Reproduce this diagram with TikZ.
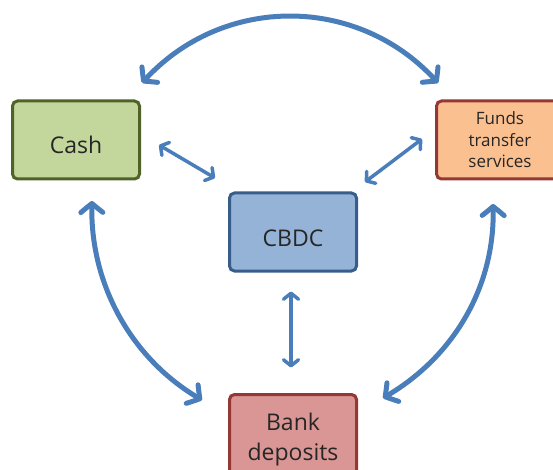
\documentclass[tikz,border=0pt]{standalone}
\usepackage{fontspec}
\setmainfont{Open Sans}
\usetikzlibrary{arrows.meta,bending}
\definecolor{flowblue}{HTML}{4A7EBB}
\definecolor{cashfill}{HTML}{C3D69B}
\definecolor{cashline}{HTML}{4F6228}
\definecolor{cbdcfill}{HTML}{95B3D7}
\definecolor{cbdcline}{HTML}{385D8A}
\definecolor{fundsfill}{HTML}{FAC090}
\definecolor{redline}{HTML}{953735}
\definecolor{bankfill}{HTML}{D99694}
\begin{document}
\begin{tikzpicture}[x=1pt,y=-1pt,
    box/.style={draw,line width=3pt,rounded corners=5pt,minimum width=127pt,
        minimum height=78pt,align=center,text=black!85,
        font=\fontsize{23}{30}\selectfont},
    bigflow/.style={draw=flowblue,line width=5pt,line cap=round,
        {Straight Barb[length=9pt,width=22pt,round,bend]}-{Straight Barb[length=9pt,width=22pt,round,bend]}},
    flow/.style={draw=flowblue,line width=3.5pt,line cap=round,
        {Straight Barb[length=6pt,width=15pt,round]}-{Straight Barb[length=6pt,width=15pt,round]}}]
    \useasboundingbox (0,0) rectangle (553,470);
    \clip (0,0) rectangle (553,470);
    \node[box,fill=cashfill,draw=cashline,text height=28pt] (cash) at (76,140) {Cash};
    \node[box,fill=fundsfill,draw=redline,font=\fontsize{17}{21.5}\selectfont] (funds) at (500,140) {Funds\\transfer\\services};
    \node[box,fill=cbdcfill,draw=cbdcline,text height=29pt] (cbdc) at (293,232) {CBDC};
    \node[box,fill=bankfill,draw=redline,minimum height=91pt] (bank) at (293,440) {Bank\\deposits};
    \draw[bigflow] ([shift={(66,-16.5)}]cash.north) .. controls +(78.5,-89.3) and +(-78.5,-89.3) .. ([shift={(-62,-16.5)}]funds.north);
    \draw[bigflow] ([shift={(16,20.5)}]cash.south) .. controls +(-3.5,81) and +(-71,-40) .. ([shift={(-26,-40)}]bank.west);
    \draw[bigflow] ([shift={(-7,23.5)}]funds.south) .. controls +(3.5,81) and +(71,-40) .. ([shift={(25,-42)}]bank.east);
    \draw[flow] ([shift={(18,5)}]cash.east) -- ([shift={(-13,-13.5)}]cbdc.north west);
    \draw[flow] ([shift={(-13,-1)}]funds.west) -- ([shift={(7,-9.5)}]cbdc.north east);
    \draw[flow] ([shift={(-2,19)}]cbdc.south) -- ([shift={(-2,-25.5)}]bank.north);
\end{tikzpicture}
\end{document}
